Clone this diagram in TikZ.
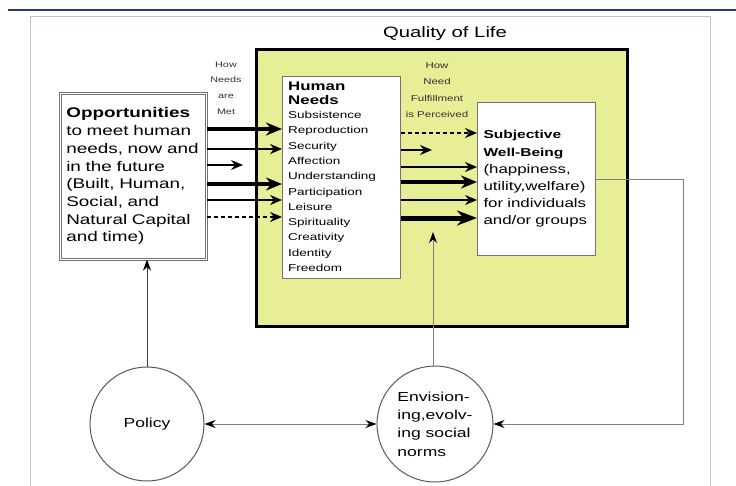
\documentclass[tikz,border=0pt]{standalone}
\usepackage{fontspec}
\setmainfont{Liberation Sans}[FakeStretch=1.35]
\usetikzlibrary{arrows.meta}

\definecolor{qolyellow}{RGB}{232,238,150}
\definecolor{framegray}{RGB}{176,196,212}
\definecolor{topnavy}{RGB}{40,56,120}
\definecolor{inkgray}{RGB}{50,50,50}

\tikzset{
  qbox/.style={draw=black!55, line width=1pt, fill=white, inner sep=0pt, anchor=north west},
  smalllbl/.style={align=center, inner sep=0pt, text=inkgray},
  thinarr/.style={line width=1.2pt, -{Stealth[length=12pt,width=10pt]}},
  fatarr/.style={line width=4pt, -{Stealth[length=16pt,width=13pt]}},
  fatterarr/.style={line width=5pt, -{Stealth[length=20pt,width=15pt]}},
  greyarr/.style={draw=black!50, line width=1pt, -{Stealth[length=11pt,width=8pt,color=black]}},
  ring/.style={circle, draw=black!65, line width=1pt, inner sep=0pt, font=\fontsize{13}{18.3}\selectfont}
}

\begin{document}
\begin{tikzpicture}[x=1pt, y=-1pt, line cap=butt, line join=miter]

  %% ════ 画布与外框 ════
  \fill[white] (0,0) rectangle (736,485);
  \draw[topnavy, line width=1.5pt] (8,10) -- (736,10);
  \draw[framegray, line width=1pt] (30,490) -- (30,16) -- (710,16) -- (710,490);

  %% ════ 主框 ════
  \node[font=\fontsize{15}{18}\selectfont] (title) at (445,34) {Quality of Life};
  \node[draw, line width=3pt, fill=qolyellow, anchor=north west, inner sep=0pt,
        minimum width=371pt, minimum height=277pt] (qol) at (255,48) {};

  \node[qbox, double=white, double distance=1.2pt, line width=0.6pt,
        minimum width=146pt, minimum height=166pt, text width=134pt, inner xsep=6pt,
        align=left, font=\fontsize{14}{17.7}\selectfont] (opp) at (60,93)
       {\textbf{Opportunities}\\ to meet human\\ needs, now and\\ in the future\\
        (Built, Human,\\ Social, and\\ Natural Capital\\ and time)};

  \node[qbox, minimum width=118pt, minimum height=202pt] (needs) at (282,76) {};
  \node[anchor=north west, inner sep=0pt, align=left,
        font=\bfseries\fontsize{12.5}{14}\selectfont] (needtitle)
       at ([xshift=6pt,yshift=-6pt]needs.north west) {Human\\Needs};
  \node[anchor=north west, inner sep=0pt, align=left,
        font=\fontsize{10}{15.3}\selectfont] (needlist)
       at ([yshift=-6pt]needtitle.south west)
       {Subsistence\\Reproduction\\Security\\Affection\\Understanding\\Participation\\
        Leisure\\Spirituality\\Creativity\\Identity\\Freedom};

  \node[qbox, minimum width=118pt, minimum height=153pt, text width=106pt, inner xsep=6pt,
        align=left, font=\fontsize{12.5}{17.2}\selectfont] (swb) at (477,102)
       {{\bfseries\fontsize{11.5}{17.2}\selectfont Subjective}\\
        {\bfseries\fontsize{11.5}{17.2}\selectfont Well-Being}\\
        (happiness,\\ utility,welfare)\\ for individuals\\ and/or groups};

  %% ════ 小标签 ════
  \node[smalllbl, font=\fontsize{8}{15.7}\selectfont] (howmet) at (226,88) {How\\Needs\\are\\Met};
  \node[smalllbl, font=\fontsize{8.5}{16.3}\selectfont] (howperc) at (437,90) {How\\Need\\Fulfillment\\is Perceived};

  %% ════ 圆 ════
  \node[ring, minimum size=114pt] (policy) at (147,424) {Policy};
  \node[ring, minimum size=116pt, align=left] (env) at (435,424) {Envision-\\ing,evolv-\\ing social\\norms};

  %% ════ 左侧箭头（opp -> needs）════
  \coordinate (shortL) at (243,165);
  \draw[fatarr]  (opp.east |- 0,129) -- (needs.west |- 0,129);
  \draw[thinarr] (opp.east |- 0,149) -- (needs.west |- 0,149);
  \draw[thinarr] (opp.east |- shortL) -- (shortL);
  \draw[fatarr]  (opp.east |- 0,184) -- (needs.west |- 0,184);
  \draw[thinarr] (opp.east |- 0,200) -- (needs.west |- 0,200);
  \draw[thinarr, dash pattern=on 4pt off 3pt] (opp.east |- 0,217) -- (needs.west |- 0,217);

  %% ════ 右侧箭头（needs -> swb）════
  \coordinate (shortR) at (432,150);
  \draw[thinarr, dash pattern=on 4pt off 3pt] (needs.east |- 0,133) -- (swb.west |- 0,133);
  \draw[thinarr]   (needs.east |- shortR) -- (shortR);
  \draw[thinarr]   (needs.east |- 0,167) -- (swb.west |- 0,167);
  \draw[fatarr]    (needs.east |- 0,182) -- (swb.west |- 0,182);
  \draw[thinarr]   (needs.east |- 0,200) -- (swb.west |- 0,200);
  \draw[fatterarr] (needs.east |- 0,218) -- (swb.west |- 0,218);

  %% ════ 反馈与政策连线 ════
  \coordinate (upTip) at (433,232);
  \coordinate (fbCorner) at (683,179);
  \draw[greyarr] (env.north -| upTip) -- (upTip);
  \draw[greyarr] (swb.east |- fbCorner) -- (fbCorner) |- (env.east);
  \draw[greyarr, draw=black!75] (policy.north) -- (policy.north |- opp.south);
  \draw[greyarr, {Stealth[length=11pt,width=8pt,color=black]}-{Stealth[length=11pt,width=8pt,color=black]}]
       (policy.east) -- (env.west);

  % 钉死画布
  \pgfresetboundingbox
  \path[use as bounding box] (0,0) rectangle (736,485);
\end{tikzpicture}
\end{document}
